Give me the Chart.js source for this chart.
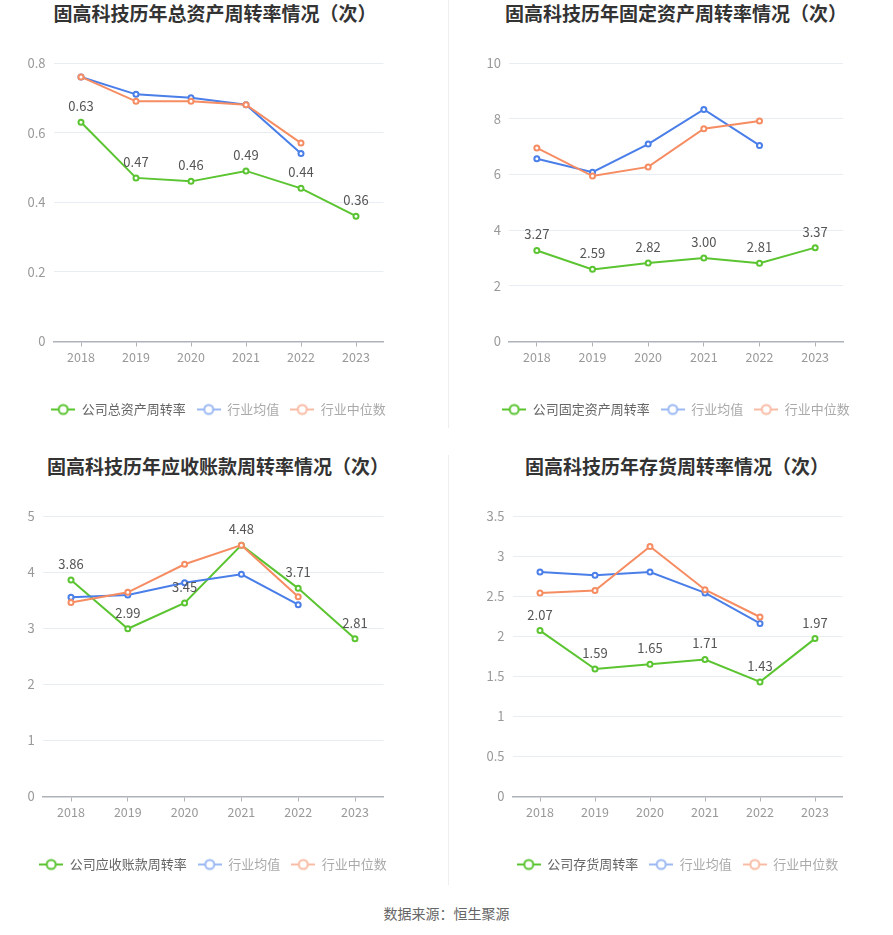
<!DOCTYPE html>
<html>
<head>
<meta charset="utf-8">
<script src="https://cdn.jsdelivr.net/npm/chart.js@4/dist/chart.umd.min.js"></script>
<style>
body { margin: 0; background: #fff; font-family: "Noto Sans CJK SC", sans-serif; }
#page { position: relative; width: 893px; height: 935px; overflow: hidden; }
.title { position: absolute; width: 400px; font-size: 19px; font-weight: bold; color: #333; text-align: center; line-height: 24px; white-space: nowrap; }
.box { position: absolute; }
.divider { position: absolute; left: 448px; width: 1px; background: #eeeeee; }
#source { position: absolute; left: 0; width: 893px; top: 903px; line-height: 20px; text-align: center; font-size: 14px; color: #666; }
</style>
</head>
<body>
<div id="page">
  <div class="title" style="left:15px;top:1px">固高科技历年总资产周转率情况（次）</div>
  <div class="title" style="left:476px;top:1px">固高科技历年固定资产周转率情况（次）</div>
  <div class="title" style="left:18px;top:454px">固高科技历年应收账款周转率情况（次）</div>
  <div class="title" style="left:477px;top:454px">固高科技历年存货周转率情况（次）</div>

  <div class="divider" style="top:0;height:428px"></div>
  <div class="divider" style="top:455px;height:430px"></div>

  <div class="box" style="left:0;top:40px"><canvas id="total-asset" width="446" height="390"></canvas></div>
  <div class="box" style="left:450px;top:40px"><canvas id="fixed-asset" width="443" height="390"></canvas></div>
  <div class="box" style="left:0;top:493px"><canvas id="receivable" width="446" height="392"></canvas></div>
  <div class="box" style="left:450px;top:493px"><canvas id="inventory" width="443" height="392"></canvas></div>

  <div id="source">数据来源：恒生聚源</div>
</div>
<script>
var years = ['2018', '2019', '2020', '2021', '2022', '2023'];
var seriesNames = ['行业均值', '行业中位数'];

var totalAssetCompany = [0.63, 0.47, 0.46, 0.49, 0.44, 0.36];
var totalAssetAvg = [0.76, 0.71, 0.70, 0.68, 0.54];
var totalAssetMedian = [0.76, 0.69, 0.69, 0.68, 0.57];

var fixedAssetCompany = [3.27, 2.59, 2.82, 3.00, 2.81, 3.37];
var fixedAssetAvg = [6.56, 6.08, 7.09, 8.33, 7.04];
var fixedAssetMedian = [6.95, 5.94, 6.27, 7.64, 7.92];

var receivableCompany = [3.86, 2.99, 3.45, 4.48, 3.71, 2.81];
var receivableAvg = [3.55, 3.59, 3.81, 3.96, 3.42];
var receivableMedian = [3.46, 3.64, 4.14, 4.48, 3.56];

var inventoryCompany = [2.07, 1.59, 1.65, 1.71, 1.43, 1.97];
var inventoryAvg = [2.80, 2.76, 2.80, 2.54, 2.16];
var inventoryMedian = [2.54, 2.57, 3.12, 2.58, 2.24];

var FONT = '"Noto Sans CJK SC", "Noto Sans", sans-serif';
Chart.defaults.font.family = FONT;

var GREEN = '#5bc431';
var BLUE = '#4a7ee8';
var ORANGE = '#f68c62';

// line + hollow circle icon used in the legend
function legendIcon(color) {
    var c = document.createElement('canvas');
    c.width = 24;
    c.height = 14;
    var g = c.getContext('2d');
    g.strokeStyle = color;
    g.lineWidth = 2;
    g.beginPath();
    g.moveTo(0, 7);
    g.lineTo(24, 7);
    g.stroke();
    g.beginPath();
    g.arc(12, 7, 4.5, 0, Math.PI * 2);
    g.fillStyle = '#fff';
    g.fill();
    g.stroke();
    return c;
}

var legendLooks = [
    { icon: legendIcon(GREEN), text: '#666' },
    { icon: legendIcon('#9bb9f3'), text: '#aaa' },
    { icon: legendIcon('#f8bca4'), text: '#aaa' }
];

var valueLabels = {
    id: 'valueLabels',
    afterDatasetsDraw: function (chart) {
        var meta = chart.getDatasetMeta(0);
        var values = chart.data.datasets[0].data;
        var ctx = chart.ctx;
        ctx.save();
        ctx.font = '13px ' + FONT;
        ctx.fillStyle = '#555';
        ctx.textAlign = 'center';
        ctx.textBaseline = 'middle';
        meta.data.forEach(function (pt, i) {
            ctx.fillText(values[i].toFixed(2), pt.x, pt.y - 16);
        });
        ctx.restore();
    }
};

// keep the legend centred under the plot instead of the whole canvas
var centerLegend = {
    id: 'centerLegend',
    beforeDraw: function (chart) {
        var mid = (chart.chartArea.left + chart.chartArea.right) / 2;
        var half = chart.width / 2;
        chart.legend.left = mid - half;
        chart.legend.right = mid + half;
    }
};

function lineSet(label, data, color, order) {
    return {
        label: label,
        data: data,
        borderColor: color,
        backgroundColor: color,
        borderWidth: 2,
        pointRadius: 2.5,
        pointBorderWidth: 2,
        pointBackgroundColor: '#fff',
        pointBorderColor: color,
        order: order
    };
}

function makeChart(id, companyLabel, company, avg, median, yMax, yStep, plotLeft, padRight) {
    var ctx = document.getElementById(id).getContext('2d');
    return new Chart(ctx, {
        type: 'line',
        data: {
            labels: years,
            datasets: [
                lineSet(companyLabel, company, GREEN, 3),
                lineSet(seriesNames[0], avg, BLUE, 2),
                lineSet(seriesNames[1], median, ORANGE, 1)
            ]
        },
        options: {
            responsive: false,
            animation: false,
            layout: { padding: { left: 0, right: padRight, top: 23, bottom: 4 } },
            scales: {
                x: {
                    offset: true,
                    afterFit: function (axis) { axis.height = 50.5; },
                    border: { display: true, color: '#aeb3ba', width: 1.5 },
                    grid: { offset: false, drawOnChartArea: false, drawTicks: true, tickLength: 5, color: '#aeb3ba' },
                    ticks: { color: '#999', font: { size: 12.5 }, padding: 3 }
                },
                y: {
                    min: 0,
                    max: yMax,
                    afterFit: function (axis) { axis.width = plotLeft; },
                    border: { display: false },
                    grid: { color: '#e8edf4', drawTicks: false },
                    ticks: {
                        stepSize: yStep,
                        color: '#999',
                        font: { size: 13 },
                        padding: 8,
                        callback: function (v) { return String(+v.toFixed(2)); }
                    }
                }
            },
            plugins: {
                tooltip: { enabled: false },
                legend: {
                    position: 'bottom',
                    labels: {
                        usePointStyle: true,
                        pointStyleWidth: 24,
                        padding: 11,
                        font: { size: 13 },
                        generateLabels: function (chart) {
                            return chart.data.datasets.map(function (ds, i) {
                                return {
                                    text: ds.label,
                                    pointStyle: legendLooks[i].icon,
                                    fontColor: legendLooks[i].text,
                                    fillStyle: ds.borderColor,
                                    strokeStyle: ds.borderColor,
                                    lineWidth: 0,
                                    datasetIndex: i
                                };
                            });
                        }
                    }
                }
            }
        },
        plugins: [valueLabels, centerLegend]
    });
}

makeChart('total-asset', '公司总资产周转率', totalAssetCompany, totalAssetAvg, totalAssetMedian, 0.8, 0.2, 53.5, 62.5);
makeChart('fixed-asset', '公司固定资产周转率', fixedAssetCompany, fixedAssetAvg, fixedAssetMedian, 10, 2, 59, 50);
makeChart('receivable', '公司应收账款周转率', receivableCompany, receivableAvg, receivableMedian, 5, 1, 42.6, 62.6);
makeChart('inventory', '公司存货周转率', inventoryCompany, inventoryAvg, inventoryMedian, 3.5, 0.5, 62.5, 50.5);
</script>
</body>
</html>
